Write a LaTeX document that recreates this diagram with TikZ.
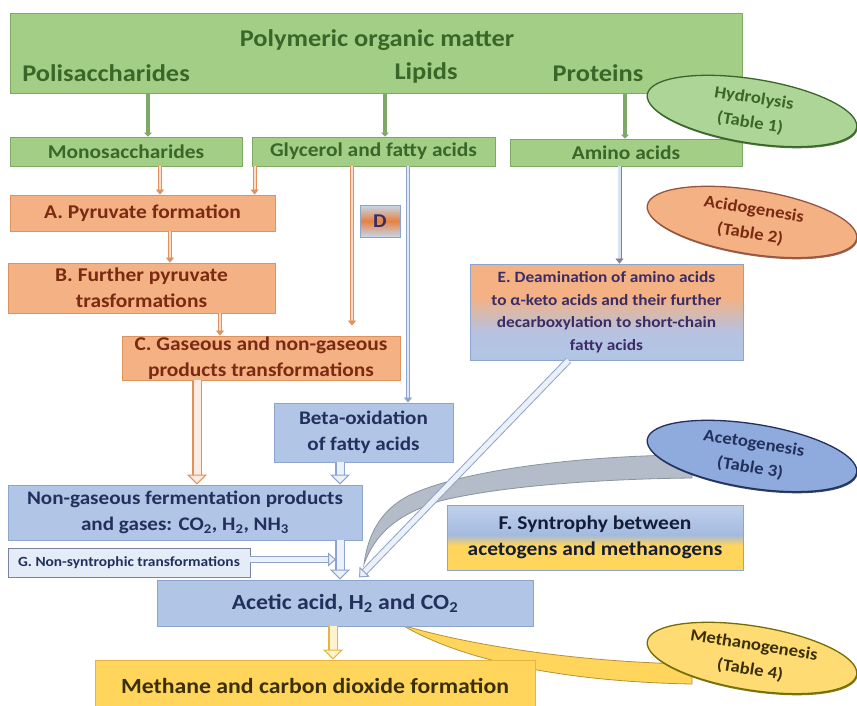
\documentclass[tikz,border=0pt]{standalone}
\usepackage{fontspec}
\setmainfont{Carlito}[FakeStretch=1.1]
\usetikzlibrary{arrows.meta,shapes.geometric,shadows,calc}
\definecolor{gfill}{HTML}{A3CE86}
\definecolor{gline}{HTML}{7EA866}
\definecolor{gtext}{HTML}{3B6629}
\definecolor{ofill}{HTML}{F4B183}
\definecolor{oline}{HTML}{E0925E}
\definecolor{otext}{HTML}{7A2A12}
\definecolor{bfill}{HTML}{B1C5E6}
\definecolor{bline}{HTML}{8DA4CC}
\definecolor{btext}{HTML}{22305C}
\definecolor{yfill}{HTML}{FFD55C}
\definecolor{yline}{HTML}{E2B640}
\definecolor{ytext}{HTML}{3A2F08}
\definecolor{grayband}{HTML}{B3BCC8}
\definecolor{graybandline}{HTML}{8A949F}
\definecolor{eblue}{HTML}{E4ECF7}
\definecolor{emid}{HTML}{B7C2E0}
\definecolor{fblue}{HTML}{A3BAE0}
\definecolor{flight}{HTML}{C8D6EE}
\definecolor{dorange}{HTML}{E8823E}
\definecolor{dblue}{HTML}{C4D8F0}
\definecolor{dtext}{HTML}{3A2C66}
\definecolor{acetofill}{HTML}{8FAADC}
\definecolor{hydrofill}{HTML}{ADD597}
\pgfdeclareverticalshading{eshade}{100bp}{color(0bp)=(eblue); color(22bp)=(bfill); color(40bp)=(emid); color(58bp)=(ofill); color(100bp)=(ofill)}
\pgfdeclareverticalshading{fshade}{100bp}{color(0bp)=(yfill); color(44bp)=(yfill); color(52bp)=(fblue); color(80bp)=(flight); color(100bp)=(fblue)}
\pgfdeclareverticalshading{dshade}{100bp}{color(0bp)=(dblue); color(25bp)=(dblue); color(50bp)=(dorange); color(75bp)=(dblue); color(100bp)=(dblue)}
\tikzset{
  ftitle/.style={font=\fontsize{24}{28}\selectfont\bfseries},
  fsec/.style={font=\fontsize{19.5}{26}\selectfont\bfseries},
  fora/.style={font=\fontsize{19.5}{26}\selectfont\bfseries},
  fblu/.style={font=\fontsize{19.2}{26}\selectfont\bfseries},
  fbig/.style={font=\fontsize{21.6}{26}\selectfont\bfseries},
  fE/.style={font=\fontsize{15.7}{22.5}\selectfont\bfseries},
  fell/.style={font=\fontsize{17}{25}\selectfont\bfseries},
  fG/.style={font=\fontsize{14}{16}\selectfont\bfseries},
  anybox/.style={line width=0.8pt, inner sep=0pt, align=center},
  gbox/.style={anybox, draw=gline, fill=gfill, text=gtext},
  obox/.style={anybox, draw=oline, fill=ofill, text=otext},
  bbox/.style={anybox, draw=bline, fill=bfill, text=btext},
  ybox/.style={anybox, draw=yline, fill=yfill, text=ytext},
  gtxt/.style={text=gtext, inner sep=0pt, ftitle},
  ell/.style={ellipse, rotate=-9, minimum width=212pt, minimum height=64pt,
    inner sep=0pt, align=center, fell, line width=1.3pt},
  garr/.style={draw=gline, line width=3.5pt, -{Triangle[width=8pt,length=4pt]}},
  thin/.style 2 args={draw=#1, double=#2, line width=0.9pt, double distance=2.2pt,
    -{Triangle[width=8pt,length=5pt,fill=#1,line width=0.5pt]}},
  hollow/.style 2 args={draw=#1, double=#2, line width=1.1pt, double distance=7pt,
    -{Triangle[width=20pt,length=10pt,fill=#2,line width=1.1pt]}},
  hollowthin/.style 2 args={draw=#1, double=#2, line width=1pt, double distance=5pt,
    -{Triangle[width=14pt,length=8pt,fill=#2,line width=1pt]}},
}
\begin{document}
\begin{tikzpicture}[x=1pt,y=-1pt]
\useasboundingbox (0,0) rectangle (857,706);
\fill[white] (0,0) rectangle (857,706);

% callout bands (behind)
\path[fill=grayband, draw=graybandline, line width=0.8pt]
  (692,455) .. controls (600,455) and (470,467) .. (410,495)
  .. controls (380,510) and (368,535) .. (364,564)
  .. controls (375,535) and (395,515) .. (440,501)
  .. controls (500,486) and (600,479) .. (692,478) -- cycle;
\path[fill=yfill, draw=yline!80!black, line width=0.8pt]
  (402,625) .. controls (450,640) and (560,662) .. (692,664)
  -- (692,684) .. controls (580,682) and (470,665) .. (402,625) -- cycle;

% top
\node[gbox, minimum width=732pt, minimum height=80pt] (top) at (376,53) {};
\node[gtxt] (title) at (377,40) {Polymeric organic matter};
\node[gtxt] (poli) at (106,73) {Polisaccharides};
\node[gtxt] (lip) at (426,73) {Lipids};
\node[gtxt] (prot) at (598,73) {Proteins};

\node[gbox, fsec, minimum width=232pt, minimum height=29pt] (mono) at (126,151.5) {Monosaccharides};
\node[gbox, fsec, minimum width=243pt, minimum height=29pt] (glyc) at (373.5,151.5) {Glycerol and fatty acids};
\node[gbox, fsec, minimum width=232pt, minimum height=27pt] (amino) at (626,152.5) {Amino acids};

\node[obox, fora, minimum width=265pt, minimum height=36pt] (A) at (142.5,213) {A. Pyruvate formation};
\node[obox, fora, minimum width=267pt, minimum height=50pt] (B) at (141.5,288) {B. Further pyruvate\\trasformations};
\node[obox, fora, minimum width=278pt, minimum height=44pt] (C) at (261,358) {C. Gaseous and non-gaseous\\products transformations};
\node[anybox, draw=bline, shading=dshade, text=dtext, fsec, minimum width=40pt, minimum height=32pt] (D) at (380,221) {D};

\node[bbox, fblu, minimum width=179pt, minimum height=59pt] (beta) at (363.5,432.5) {Beta-oxidation\\of fatty acids};
\node[anybox, draw=bline, shading=eshade, text=dtext, fE, minimum width=273pt, minimum height=96pt] (E) at (606.5,312) {E. Deamination of amino acids\\to α-keto acids and their further\\decarboxylation to short-chain\\fatty acids};

\node[bbox, fblu, minimum width=354pt, minimum height=55pt] (nongas) at (185,512.5) {Non-gaseous fermentation products\\and gases: CO\textsubscript{2}, H\textsubscript{2}, NH\textsubscript{3}};
\node[anybox, draw=btext!60, fill=eblue, text=btext, fG, minimum width=242pt, minimum height=29pt] (G) at (129,562.5) {G. Non-syntrophic transformations};
\node[bbox, fbig, minimum width=376pt, minimum height=46pt] (acetic) at (345,603) {Acetic acid, H\textsubscript{2} and CO\textsubscript{2}};
\node[ybox, fbig, minimum width=440pt, minimum height=52pt] (methane) at (315,686) {Methane and carbon dioxide formation};
\node[anybox, draw=bline, shading=fshade, text=btext!60!black, fora, minimum width=296pt, minimum height=65pt] (F) at (595,537.5) {F. Syntrophy between\\acetogens and methanogens};

% ellipses
\node[ell, fill=hydrofill, draw=gtext, text=gtext,
  drop shadow={shadow xshift=0.8pt, shadow yshift=-1.6pt, fill=gtext, opacity=0.9}] (hydro) at (752,111) {Hydrolysis\\(Table 1)};
\node[ell, fill=ofill, draw=otext!80, text=otext,
  drop shadow={shadow xshift=0.8pt, shadow yshift=-1.6pt, fill=otext!80, opacity=0.9}] (acido) at (752,222) {Acidogenesis\\(Table 2)};
\node[ell, fill=acetofill, draw=btext, text=btext,
  drop shadow={shadow xshift=0.8pt, shadow yshift=-1.6pt, fill=btext, opacity=0.9}] (aceto) at (752,456) {Acetogenesis\\(Table 3)};
\node[ell, fill=yfill!85!white, draw=ytext!70!yellow, text=ytext,
  drop shadow={shadow xshift=0.8pt, shadow yshift=-1.6pt, fill=ytext!70!yellow, opacity=0.9}] (methano) at (752,658) {Methanogenesis\\(Table 4)};

% green arrows
\draw[garr] ([xshift=22pt]mono.north |- top.south) -- ([xshift=22pt]mono.north);
\draw[garr] ([xshift=11.5pt]glyc.north |- top.south) -- ([xshift=11.5pt]glyc.north);
\draw[garr] ([xshift=-1pt]amino.north |- top.south) -- ([xshift=-1pt]amino.north);

% thin orange / blue connectors
\draw[thin={oline}{ofill!45!white}] ([xshift=34pt]mono.south) -- ([xshift=34pt]mono.south |- A.north);
\draw[thin={oline}{ofill!45!white}] ([xshift=3pt]glyc.south west) -- ([xshift=3pt]glyc.south west |- A.north);
\draw[thin={oline}{ofill!45!white}] ([xshift=27.5pt]A.south) -- ([xshift=27.5pt]A.south |- B.north);
\draw[thin={oline}{ofill!45!white}] ([xshift=78.5pt]B.south) -- ([xshift=78.5pt]B.south |- C.north);
\draw[thin={oline}{ofill!45!white}, shorten >=10pt] ([xshift=-21.5pt]glyc.south) -- ([xshift=-21.5pt]glyc.south |- C.north);
\draw[thin={bline}{bfill!40!white}] ([xshift=34.5pt]glyc.south) -- ([xshift=34.5pt]glyc.south |- beta.north);
\draw[thin={bline!70!otext}{bfill!50!white}] ([xshift=-6.5pt]amino.south) -- ([xshift=-6.5pt]amino.south |- E.north);

% hollow arrows
\draw[hollow={oline}{ofill!25!white}] ([xshift=-64pt]C.south) -- ([xshift=-64pt]C.south |- nongas.north);
\draw[hollow={bline}{bfill!25!white}] ([xshift=-23.5pt]beta.south) -- ([xshift=-23.5pt]beta.south |- nongas.north);
\draw[hollow={bline}{bfill!25!white}] ([xshift=155pt]nongas.south) -- ([xshift=155pt]nongas.south |- acetic.north);
\draw[hollowthin={bline}{bfill!25!white}] ([yshift=3pt]G.east) -- ([xshift=-9pt,yshift=3pt]acetic.north |- G.east);
\draw[hollowthin={bline}{bfill!25!white}, shorten >=3pt] ([xshift=-38pt]E.south) -- ([xshift=12pt]acetic.north);
\draw[hollow={yline}{yfill!30!white}] ([xshift=-12pt]acetic.south) -- ([xshift=-12pt]acetic.south |- methane.north);
\end{tikzpicture}
\end{document}
